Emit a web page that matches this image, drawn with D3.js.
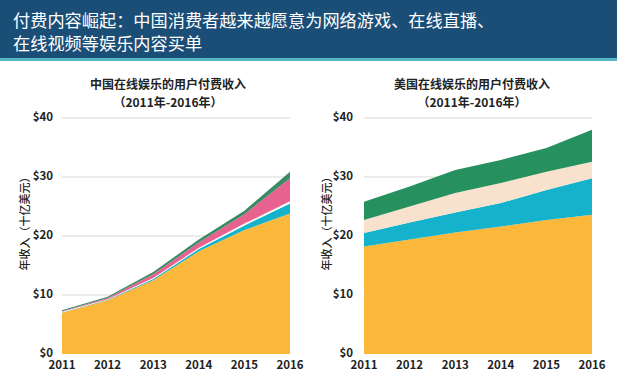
<!DOCTYPE html>
<html><head><meta charset="utf-8">
<script src="https://cdn.jsdelivr.net/npm/d3@7"></script>
<style>
html,body{margin:0;padding:0;background:#fff;}
svg{display:block;font-family:"Noto Sans CJK SC","Noto Sans",sans-serif;}
</style></head>
<body>
<svg id="c" width="617" height="369"></svg>
<script>
const years = [2011, 2012, 2013, 2014, 2015, 2016];
const yTicks = [0, 10, 20, 30, 40];
const titleLines = ["付费内容崛起：中国消费者越来越愿意为网络游戏、在线直播、", "在线视频等娱乐内容买单"];
const yAxisTitle = "年收入（十亿美元）";

// China
const cnTitle = "中国在线娱乐的用户付费收入";
const cnSub = "（2011年-2016年）";
const cnYellow = [7.0, 9.1, 12.5, 17.4, 21.0, 23.8];
const cnTeal   = [0.05, 0.1, 0.2, 0.4, 0.8, 1.7];
const cnWhite  = [0.1, 0.1, 0.2, 0.2, 0.3, 0.4];
const cnPink   = [0.1, 0.2, 0.6, 0.9, 1.6, 3.9];
const cnGreen  = [0.15, 0.2, 0.4, 0.5, 0.6, 1.1];

// US
const usTitle = "美国在线娱乐的用户付费收入";
const usSub = "（2011年-2016年）";
const usYellow = [18.2, 19.4, 20.6, 21.6, 22.7, 23.6];
const usTeal   = [2.3, 2.9, 3.4, 4.0, 5.1, 6.2];
const usBeige  = [2.2, 2.7, 3.3, 3.4, 3.1, 2.8];
const usGreen  = [3.1, 3.4, 3.9, 3.9, 4.0, 5.4];

const svg = d3.select("#c");

// header
svg.append("rect").attr("x",0).attr("y",0).attr("width",617).attr("height",58).attr("fill","#1b4e77");
svg.append("rect").attr("x",0).attr("y",58).attr("width",617).attr("height",3).attr("fill","#58b7c6");
titleLines.forEach((t,i)=>{
  svg.append("text").attr("x",13).attr("y",27+i*23).attr("fill","#fff")
    .attr("font-size",17.2).text(t);
});

function chart(opts){
  const {x0,x1,labelX,titleX,axisTitleX,title,sub,layers} = opts;
  const x = d3.scaleLinear().domain([2011,2016]).range([x0,x1]);
  const y = d3.scaleLinear().domain([0,40]).range([354,118]);
  const g = svg.append("g");
  g.append("text").attr("x",titleX).attr("y",89).attr("text-anchor","middle")
    .attr("font-size",12).attr("font-weight","bold").attr("fill","#222").text(title);
  g.append("text").attr("x",titleX).attr("y",107).attr("text-anchor","middle")
    .attr("font-size",12).attr("font-weight","bold").attr("fill","#222").text(sub);
  // grid
  g.selectAll(".grid").data(yTicks.filter(d=>d>0)).enter().append("line")
    .attr("x1",x0).attr("x2",x1).attr("y1",d=>y(d)).attr("y2",d=>y(d))
    .attr("stroke","#e4e4e4").attr("stroke-width",1.5);
  // areas
  const data = years.map((yr,i)=>{
    const o={year:yr}; layers.forEach((l,j)=>o["k"+j]=l.values[i]); return o;
  });
  const stack = d3.stack().keys(layers.map((l,j)=>"k"+j));
  const series = stack(data);
  const area = d3.area().x(d=>x(d.data.year)).y0(d=>y(d[0])).y1(d=>y(d[1]));
  g.selectAll(".area").data(series).enter().append("path")
    .attr("d",area).attr("fill",(d,i)=>layers[i].color);
  // y labels
  g.selectAll(".yl").data(yTicks).enter().append("text")
    .attr("x",labelX).attr("y",d=>y(d)+3).attr("text-anchor","end")
    .attr("font-size",11.5).attr("font-weight","bold").attr("fill","#222")
    .text(d=>"$"+d);
  // x labels
  g.selectAll(".xl").data(years).enter().append("text")
    .attr("x",d=>x(d)).attr("y",369).attr("text-anchor","middle")
    .attr("font-size",11.5).attr("font-weight","bold").attr("fill","#222")
    .text(d=>d);
  // y axis title
  g.append("text").attr("transform",`translate(${axisTitleX},221) rotate(-90)`)
    .attr("text-anchor","middle").attr("font-size",11).attr("font-weight",500).attr("fill","#222")
    .text(yAxisTitle);
}

chart({x0:62,x1:290,labelX:53,titleX:168,axisTitleX:29,title:cnTitle,sub:cnSub,
  layers:[
    {values:cnYellow,color:"#fbb83a"},
    {values:cnTeal,color:"#15b2cc"},
    {values:cnWhite,color:"#fdfaf6"},
    {values:cnPink,color:"#e8628f"},
    {values:cnGreen,color:"#3a8a63"}
  ]});
chart({x0:364,x1:592,labelX:353,titleX:472,axisTitleX:331,title:usTitle,sub:usSub,
  layers:[
    {values:usYellow,color:"#fbb83a"},
    {values:usTeal,color:"#15b2cc"},
    {values:usBeige,color:"#f8e2cd"},
    {values:usGreen,color:"#27905f"}
  ]});
</script>
</body></html>
